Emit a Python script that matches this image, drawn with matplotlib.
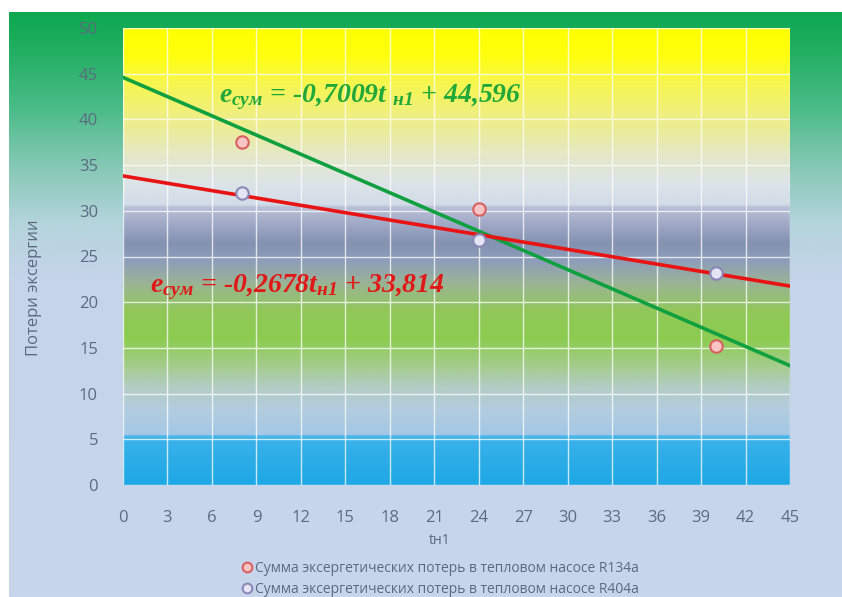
import numpy as np
import matplotlib
matplotlib.use('Agg')
from matplotlib import pyplot as plt
from matplotlib.colors import LinearSegmentedColormap
from matplotlib.lines import Line2D

plt.rcParams['font.family'] = ['Open Sans', 'DejaVu Sans']
plt.rcParams['mathtext.fontset'] = 'custom'
plt.rcParams['mathtext.it'] = 'Liberation Serif:bold:italic'
plt.rcParams['mathtext.rm'] = 'Liberation Serif:bold:italic'
plt.rcParams['mathtext.bf'] = 'Liberation Serif:bold:italic'

# data
t_points = [8, 24, 40]
r134a = [37.5, 30.2, 15.2]
r404a = [32.0, 26.8, 23.2]
fit_r134a = (-0.7009, 44.596)
fit_r404a = (-0.2678, 33.814)
x_ticks = list(range(0, 46, 3))
y_ticks = list(range(0, 51, 5))
label_r134a = 'Сумма эксергетических потерь в тепловом насосе R134a'
label_r404a = 'Сумма эксергетических потерь в тепловом насосе R404a'

text_col = '#5a6a80'

fig = plt.figure(figsize=(8.42, 5.97), dpi=100)
fig.patch.set_facecolor('white')

# outer chart background (green on top fading to light blue)
bg = fig.add_axes([9 / 842, 0, 1 - 9 / 842, (597 - 12) / 597], zorder=-10)
bg_cmap = LinearSegmentedColormap.from_list('bg', [
    (0.0, '#0fa850'), (0.06, '#20ae60'), (0.16, '#48bc86'),
    (0.26, '#84c8b4'), (0.36, '#b4d4dc'), (0.46, '#c6d4ea'), (1.0, '#c8d6ec')])
bg.imshow(np.linspace(0, 1, 256).reshape(-1, 1), aspect='auto', cmap=bg_cmap,
          extent=[0, 1, 0, 1], origin='upper')
bg.set_axis_off()

ax = fig.add_axes([123 / 842, 112 / 597, 667 / 842, 457 / 597])

# plot area gradient, stops in data units (0..50)
stops = [
    (0, '#1ea8e6'), (5.2, '#3ab2ea'), (5.5, '#a4c8e6'), (8, '#b2cce0'),
    (10.5, '#b4ccc8'), (13, '#a4cc8c'), (16, '#8ccc50'), (19, '#90c858'),
    (22, '#9ab494'), (24.5, '#8e9eba'), (26.5, '#8492b2'), (29, '#a6aeca'),
    (30.4, '#b8c0d6'), (30.7, '#d2dce8'), (33, '#dce4e8'), (36, '#e4e8c8'),
    (40, '#eeee88'), (44, '#f6f650'), (47, '#ffff10'), (50, '#ffff00')]
plot_cmap = LinearSegmentedColormap.from_list('pa', [(v / 50, c) for v, c in stops])
ax.imshow(np.linspace(0, 1, 512).reshape(-1, 1), aspect='auto', cmap=plot_cmap,
          extent=[0, 45, 0, 50], origin='lower', zorder=0)

ax.set_xlim(0, 45)
ax.set_ylim(0, 50)
ax.set_xticks(x_ticks)
ax.set_yticks(y_ticks)
ax.grid(True, color='white', linewidth=1.0, alpha=0.75, zorder=1)
ax.set_axisbelow(False)
for s in ax.spines.values():
    s.set_visible(False)
ax.tick_params(length=0, labelsize=12, labelcolor=text_col)
ax.tick_params(axis='y', pad=18)
ax.tick_params(axis='x', pad=18)

# trend lines
xx = np.array([0, 45])
ax.plot(xx, fit_r134a[0] * xx + fit_r134a[1], color='#10a040', linewidth=2.6, zorder=3)
ax.plot(xx, fit_r404a[0] * xx + fit_r404a[1], color='#e81414', linewidth=2.6, zorder=3)

# points
ax.scatter(t_points, r134a, s=80, facecolor='#f8c4c4', edgecolor='#d86060',
           linewidth=1.5, zorder=4)
ax.scatter(t_points, r404a, s=80, facecolor='#e4e4f4', edgecolor='#8a88b8',
           linewidth=1.5, zorder=4)

eq_kw = dict(fontsize=20, va='center', ha='left', zorder=5,
             family='Liberation Serif', weight='bold', style='italic')
ax.text(6.5, 42.4, r'$e_{сум}$ = -0,7009$t$ $_{н1}$ + 44,596', color='#22a838', **eq_kw)
ax.text(1.8, 21.7, r'$e_{сум}$ = -0,2678$t_{н1}$ + 33,814', color='#e01818', **eq_kw)

fig.text(440 / 842, 1 - 541 / 597, 'tн1', color=text_col, fontsize=10,
         ha='center', va='center')
fig.text(34 / 842, 1 - 288 / 597, 'Потери эксергии', color=text_col, fontsize=12,
         rotation=90, ha='center', va='center')

handles = [
    Line2D([], [], linestyle='none', marker='o', markersize=7,
           markerfacecolor='#f8c4c4', markeredgecolor='#d86060', markeredgewidth=1.5),
    Line2D([], [], linestyle='none', marker='o', markersize=7,
           markerfacecolor='#e4e4f4', markeredgecolor='#8a88b8', markeredgewidth=1.5),
]
leg = fig.legend(handles, [label_r134a, label_r404a], loc='center',
                 bbox_to_anchor=(440 / 842, 1 - 579 / 597), frameon=False,
                 fontsize=10, handletextpad=0.2, handlelength=0.8,
                 labelspacing=0.45, labelcolor=text_col)

fig.savefig('out.png', dpi=100, facecolor=fig.get_facecolor())
